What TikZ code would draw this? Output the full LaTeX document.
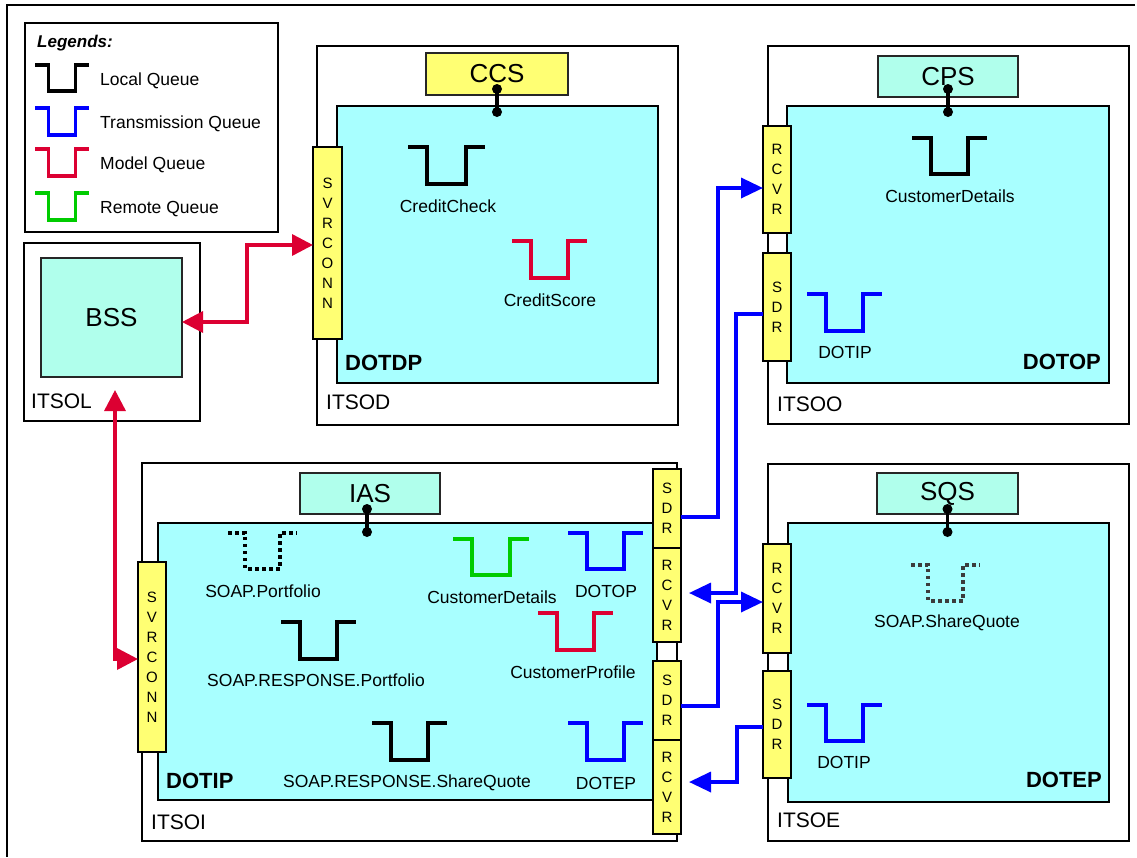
\documentclass[tikz,border=0pt]{standalone}
\usepackage{fontspec}
\setmainfont{Liberation Sans}
\usetikzlibrary{arrows.meta}
\definecolor{qcyan}{RGB}{168,255,255}
\definecolor{aqua}{RGB}{176,255,236}
\definecolor{cyel}{RGB}{255,255,115}
\definecolor{cred}{RGB}{220,0,50}
\definecolor{cblue}{RGB}{0,0,255}
\definecolor{cgreen}{RGB}{0,204,0}
\definecolor{dgray}{RGB}{60,60,60}
\newcommand{\bx}[7]{\node[#1,minimum width={(#5-#3)*1pt},minimum height={(#6-#4)*1pt}] (#2) at ({(#3+#5)/2},{(#4+#6)/2}) {#7};}
\newcommand{\qsym}[5]{\draw[#1] (#2,#3) -- ++(0.25*#4,0) -- ++(0,#5) -- ++(0.5*#4,0) -- ++(0,-#5) -- ++(0.25*#4,0);}
\tikzset{
  box/.style={draw=black, line width=2.5pt, inner sep=0pt, outer sep=0pt, fill=white},
  qmbox/.style={draw=black, line width=2.8pt, inner sep=0pt, outer sep=0pt, fill=qcyan},
  appbox/.style={draw=black!85, line width=2.5pt, inner sep=0pt, outer sep=0pt, fill=aqua, font=\fontsize{26}{30}\selectfont},
  ybox/.style={draw=black!85, line width=2.5pt, inner sep=0pt, outer sep=0pt, fill=cyel, font=\fontsize{26}{30}\selectfont},
  chan/.style={draw=black, line width=2.5pt, inner sep=0pt, outer sep=0pt, fill=cyel, align=center, font=\fontsize{15}{20}\selectfont},
  qline/.style={line width=3.6pt},
  dotq/.style={line width=3.6pt, dash pattern=on 3.5pt off 3.5pt},
  lbl/.style={inner sep=0pt, font=\fontsize{17.5}{20}\selectfont},
  qmname/.style={inner sep=0pt, font=\bfseries\fontsize{22}{26}\selectfont},
  itso/.style={inner sep=0pt, font=\fontsize{21}{24}\selectfont},
  redarr/.style={draw=cred, line width=3.5pt, {Triangle[length=21pt,width=21pt]}-{Triangle[length=21pt,width=21pt]}},
  bluearr/.style={draw=cblue, line width=3.5pt, -{Triangle[length=22pt,width=20pt]}},
  stem/.style={line width=3.2pt},
}
\begin{document}
\begin{tikzpicture}[x=1pt,y=-1pt]
\useasboundingbox (0,0) rectangle (1137,857);
% page frame
\draw[line width=1.8pt] (1135,5) -- (7,5) -- (7,857);

% legend
\bx{box}{legend}{25}{23}{278}{232}{}
\node[lbl, anchor=west, font=\bfseries\itshape\fontsize{17}{20}\selectfont] (legt) at (37,43) {Legends:};
\qsym{qline,black}{35}{65}{54}{26}
\qsym{qline,cblue}{35}{108}{54}{27}
\qsym{qline,cred}{35}{149}{54}{27}
\qsym{qline,cgreen}{35}{193}{54}{27}
\node[lbl, anchor=west] (leg1) at (100,81) {Local Queue};
\node[lbl, anchor=west] (leg2) at (100,124) {Transmission Queue};
\node[lbl, anchor=west] (leg3) at (100,165) {Model Queue};
\node[lbl, anchor=west] (leg4) at (100,209) {Remote Queue};

% ITSOL
\bx{box}{itsol}{24}{243}{200}{421}{}
\bx{appbox}{bss}{41}{258}{182}{377}{BSS}
\node[itso, anchor=west] (litsol) at (31,401) {ITSOL};

% ITSOD
\bx{box}{itsod}{317}{46}{678}{425}{}
\bx{qmbox}{dotdp}{337}{106}{658}{383}{}
\bx{ybox}{ccs}{426}{53}{568}{95}{CCS}
\bx{chan}{svrd}{313}{147}{342}{339}{S\\V\\R\\C\\O\\N\\N}
\node[qmname, anchor=west] (ldotdp) at (345,363) {DOTDP};
\node[itso, anchor=west] (litsod) at (326,402) {ITSOD};
\qsym{qline,black}{408}{147}{77}{37}
\node[lbl] (lcc) at (448,206) {CreditCheck};
\qsym{qline,cred}{512}{241}{75}{37}
\node[lbl] (lcs) at (550,300) {CreditScore};
\coordinate (ccsd1) at ([yshift=6pt]ccs.south);
\coordinate (ccsd2) at ([yshift=-6pt]dotdp.north -| ccs.south);
\draw[stem] (ccsd1) -- (ccsd2);
\fill (ccsd1) circle (5pt) (ccsd2) circle (5pt);

% ITSOO
\bx{box}{itsoo}{768}{46}{1129}{424}{}
\bx{qmbox}{dotop}{787}{106}{1109}{383}{}
\bx{appbox}{cps}{878}{56}{1018}{97}{CPS}
\bx{chan}{rcvro}{763}{126}{791}{233}{R\\C\\V\\R}
\bx{chan}{sdro}{763}{253}{791}{361}{S\\D\\R}
\node[qmname, anchor=east] (ldotop) at (1101,362) {DOTOP};
\node[itso, anchor=west] (litsoo) at (777,404) {ITSOO};
\qsym{qline,black}{912}{138}{75}{36}
\node[lbl] (lcdo) at (950,196) {CustomerDetails};
\qsym{qline,cblue}{807}{294}{75}{37}
\node[lbl] (ldotipo) at (845,352) {DOTIP};
\coordinate (cpsd1) at ([yshift=8pt]cps.south);
\coordinate (cpsd2) at ([yshift=-6pt]dotop.north -| cps.south);
\draw[stem] (cpsd1) -- (cpsd2);
\fill (cpsd1) circle (5pt) (cpsd2) circle (5pt);

% ITSOI
\bx{box}{itsoi}{142}{463}{677}{841}{}
\bx{qmbox}{dotip}{158}{523}{657}{800}{}
\bx{appbox}{ias}{300}{473}{440}{514}{IAS}
\bx{chan}{svri}{138}{562}{166}{752}{S\\V\\R\\C\\O\\N\\N}
\bx{chan}{sdri1}{653}{469}{681}{548}{S\\D\\R}
\bx{chan}{rcvri1}{653}{548}{681}{642}{R\\C\\V\\R}
\bx{chan}{sdri2}{653}{661}{681}{740}{S\\D\\R}
\bx{chan}{rcvri2}{653}{740}{681}{834}{R\\C\\V\\R}
\node[qmname, anchor=west] (ldotip) at (166,781) {DOTIP};
\node[itso, anchor=west] (litsoi) at (151,822) {ITSOI};
\qsym{dotq,black}{228}{533}{69}{36}
\node[lbl] (lsp) at (263,591) {SOAP.Portfolio};
\qsym{qline,black}{281}{622}{75}{37}
\node[lbl] (lsrp) at (316,680) {SOAP.RESPONSE.Portfolio};
\qsym{qline,black}{372}{723}{75}{37}
\node[lbl] (lsrs) at (407,783) {SOAP.RESPONSE.ShareQuote};
\qsym{qline,cgreen}{453}{539}{76}{36}
\node[lbl] (lcdi) at (492,597) {CustomerDetails};
\qsym{qline,cblue}{568}{533}{75}{36}
\node[lbl] (ldotopi) at (606,591) {DOTOP};
\qsym{qline,cred}{538}{613}{75}{37}
\node[lbl] (lcp) at (573,672) {CustomerProfile};
\qsym{qline,cblue}{568}{723}{75}{37}
\node[lbl] (ldotepi) at (606,783) {DOTEP};
\coordinate (iasd1) at ([xshift=-3pt,yshift=5pt]ias.south);
\coordinate (iasd2) at ([yshift=-9pt]dotip.north -| iasd1);
\draw[stem] (iasd1) -- (iasd2);
\fill (iasd1) circle (5pt) (iasd2) circle (5pt);

% ITSOE
\bx{box}{itsoe}{768}{464}{1129}{841}{}
\bx{qmbox}{dotep}{788}{523}{1109}{802}{}
\bx{appbox}{sqs}{877}{473}{1018}{514}{SQS}
\bx{chan}{rcvre}{763}{544}{791}{653}{R\\C\\V\\R}
\bx{chan}{sdre}{763}{671}{791}{778}{S\\D\\R}
\node[qmname, anchor=east] (ldotep) at (1102,780) {DOTEP};
\node[itso, anchor=west] (litsoe) at (777,820) {ITSOE};
\qsym{dotq,dgray}{911}{565}{69}{36}
\node[lbl] (lsq) at (947,623) {SOAP.ShareQuote};
\qsym{qline,cblue}{807}{705}{75}{36}
\node[lbl] (ldotipe) at (844,762) {DOTIP};
\coordinate (sqsd1) at ([yshift=5pt]sqs.south);
\coordinate (sqsd2) at ([yshift=-9pt]dotep.north -| sqs.south);
\draw[stem] (sqsd1) -- (sqsd2);
\fill (sqsd1) circle (5pt) (sqsd2) circle (5pt);

% red connectors
\coordinate (ra) at (247,322);
\coordinate (rb) at (247,245);
\draw[redarr] (ra -| bss.east) -- (ra) -- (rb) -- (rb -| svrd.west);
\coordinate (rc) at (115,390);
\coordinate (rd) at (115,659);
\draw[redarr] (rc) -- (rd) -- (rd -| svri.west);

% blue connectors
\coordinate (b1a) at (718,517);
\coordinate (b1b) at (718,188);
\draw[bluearr] (b1a -| sdri1.east) -- (b1a) -- (b1b) -- (b1b -| rcvro.west);
\coordinate (b2a) at (736,314);
\coordinate (b2b) at (736,593);
\draw[bluearr, shorten >=8pt] (b2a -| sdro.west) -- (b2a) -- (b2b) -- (b2b -| rcvri1.east);
\coordinate (b3a) at (718,706);
\coordinate (b3b) at (718,602);
\draw[bluearr] (b3a -| sdri2.east) -- (b3a) -- (b3b) -- (b3b -| rcvre.west);
\coordinate (b4a) at (737,727);
\coordinate (b4b) at (737,782);
\draw[bluearr, shorten >=8pt] (b4a -| sdre.west) -- (b4a) -- (b4b) -- (b4b -| rcvri2.east);
\end{tikzpicture}
\end{document}
